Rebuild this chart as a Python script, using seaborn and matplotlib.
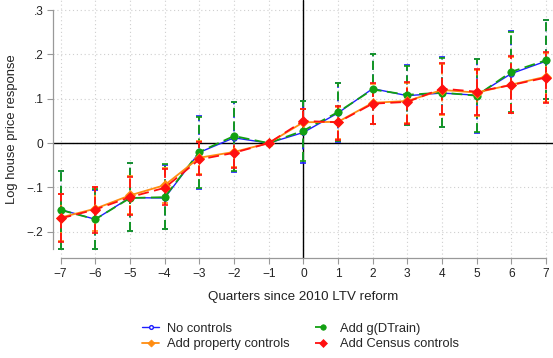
import numpy as np
import pandas as pd
import matplotlib
matplotlib.use("Agg")
import matplotlib.pyplot as plt
import seaborn as sns

quarters = [-7, -6, -5, -4, -3, -2, -1, 0, 1, 2, 3, 4, 5, 6, 7]

# Point estimates
no_controls = [-0.150, -0.172, -0.123, -0.124, -0.021, 0.012, 0.0, 0.024, 0.068, 0.123, 0.107, 0.113, 0.108, 0.157, 0.185]
add_dtrain = [-0.151, -0.172, -0.124, -0.122, -0.020, 0.016, 0.0, 0.028, 0.070, 0.121, 0.109, 0.114, 0.107, 0.161, 0.187]
add_property = [-0.168, -0.148, -0.118, -0.095, -0.033, -0.020, 0.0, 0.047, 0.048, 0.091, 0.095, 0.120, 0.114, 0.132, 0.150]
add_census = [-0.170, -0.150, -0.122, -0.101, -0.037, -0.022, 0.0, 0.050, 0.047, 0.089, 0.093, 0.123, 0.116, 0.131, 0.148]

# 95% confidence bounds (reference quarter -1 has none)
no_controls_lo = [-0.239, -0.240, -0.199, -0.195, -0.104, -0.065, np.nan, -0.044, 0.003, 0.042, 0.040, 0.036, 0.023, 0.069, 0.099]
no_controls_hi = [-0.062, -0.105, -0.044, -0.050, 0.061, 0.093, np.nan, 0.096, 0.136, 0.202, 0.176, 0.194, 0.190, 0.252, 0.278]
add_dtrain_lo = [-0.238, -0.239, -0.198, -0.193, -0.102, -0.062, np.nan, -0.040, 0.004, 0.043, 0.041, 0.037, 0.024, 0.070, 0.100]
add_dtrain_hi = [-0.064, -0.104, -0.046, -0.048, 0.060, 0.092, np.nan, 0.095, 0.135, 0.200, 0.175, 0.192, 0.189, 0.250, 0.277]
add_property_lo = [-0.220, -0.198, -0.160, -0.135, -0.070, -0.054, np.nan, 0.020, 0.009, 0.044, 0.046, 0.064, 0.061, 0.069, 0.093]
add_property_hi = [-0.114, -0.098, -0.074, -0.057, 0.004, 0.012, np.nan, 0.076, 0.082, 0.133, 0.136, 0.178, 0.166, 0.195, 0.204]
add_census_lo = [-0.223, -0.202, -0.163, -0.140, -0.072, -0.056, np.nan, 0.022, 0.007, 0.042, 0.044, 0.066, 0.063, 0.067, 0.091]
add_census_hi = [-0.116, -0.100, -0.076, -0.059, 0.003, 0.010, np.nan, 0.078, 0.084, 0.135, 0.138, 0.181, 0.167, 0.197, 0.206]

y_ticks = [-0.2, -0.1, 0.0, 0.1, 0.2, 0.3]
y_tick_labels = ["\u2212.2", "\u2212.1", "0", ".1", ".2", ".3"]
x_tick_labels = [("\u2212" + str(-q)) if q < 0 else str(q) for q in quarters]

series = [
    ("No controls", no_controls, no_controls_lo, no_controls_hi),
    ("Add property controls", add_property, add_property_lo, add_property_hi),
    ("Add g(DTrain)", add_dtrain, add_dtrain_lo, add_dtrain_hi),
    ("Add Census controls", add_census, add_census_lo, add_census_hi),
]

frames = []
for name, est, lo, hi in series:
    frames.append(pd.DataFrame({"quarter": quarters, "estimate": est, "lo": lo, "hi": hi, "spec": name}))
df = pd.concat(frames, ignore_index=True)

sns.set_theme(style="white")
plt.rcParams["font.family"] = ["Liberation Sans", "DejaVu Sans"]

fig = plt.figure(figsize=(5.53, 3.58), dpi=100)
ax = fig.add_axes([0.0958, 0.279, 0.9042, 0.721])

styles = {
    "No controls": dict(color="#1f1fff", ls="-", lw=1.0, marker="o", ms=3.6, mfc="white", mew=1.0),
    "Add g(DTrain)": dict(color="#12a012", ls=(0, (6, 3)), lw=1.3, marker="o", ms=5.3, mfc="#12a012", mew=0.5),
    "Add property controls": dict(color="#ff8c10", ls="-", lw=1.3, marker="D", ms=4.8, mfc="#ff8c10", mew=0.5),
    "Add Census controls": dict(color="#ff1010", ls=(0, (6, 3)), lw=1.3, marker="D", ms=5.6, mfc="#ff1010", mew=0.5),
}
draw_order = ["No controls", "Add g(DTrain)", "Add property controls", "Add Census controls"]

# Reference lines and grid
for yv in y_ticks:
    ax.axhline(yv, color="#cfcfcf", lw=0.8, ls=(0, (1, 2.5)), zorder=0)
for xv in quarters:
    ax.axvline(xv, color="#cfcfcf", lw=0.8, ls=(0, (1, 2.5)), zorder=0)
ax.axhline(0, color="black", lw=1.0, zorder=1)
ax.axvline(0, color="black", lw=1.0, zorder=1)

handles = {}
for k, name in enumerate(draw_order):
    st = styles[name]
    sub = df[df["spec"] == name]
    ok = sub["lo"].notna()
    ax.errorbar(sub.loc[ok, "quarter"], sub.loc[ok, "estimate"],
                yerr=[sub.loc[ok, "estimate"] - sub.loc[ok, "lo"], sub.loc[ok, "hi"] - sub.loc[ok, "estimate"]],
                fmt="none", ecolor=st["color"], elinewidth=1.3, capsize=2.2, capthick=1.2,
                zorder=2 + k)
    ax.collections[-1].set_linestyle((0, (5, 2.5)))
    sns.lineplot(data=sub, x="quarter", y="estimate", ax=ax, color=st["color"],
                 linewidth=st["lw"], marker=st["marker"], markersize=st["ms"],
                 markerfacecolor=st["mfc"], markeredgecolor=st["color"], markeredgewidth=st["mew"],
                 zorder=6 + k, legend=False)
    ax.lines[-1].set_linestyle(st["ls"])
    handles[name] = matplotlib.lines.Line2D([], [], color=st["color"], lw=st["lw"], ls=st["ls"],
                                            marker=st["marker"], ms=st["ms"] * 0.75,
                                            mfc=st["mfc"], mec=st["color"], mew=st["mew"])

ax.set_xlim(-7.22, 7.2)
ax.set_ylim(-0.2596, 0.323)
ax.set_xticks(quarters)
ax.set_xticklabels(x_tick_labels)
ax.set_yticks(y_ticks)
ax.set_yticklabels(y_tick_labels)
ax.tick_params(axis="both", direction="out", length=4, width=0.8, color="#999999",
               labelsize=8.6, labelcolor="#222222", pad=3, left=True, bottom=True)

for side in ["top", "right"]:
    ax.spines[side].set_visible(False)
for side in ["left", "bottom"]:
    ax.spines[side].set_color("#999999")
    ax.spines[side].set_linewidth(0.9)
ax.spines["left"].set_bounds(-0.24, 0.3)
ax.spines["bottom"].set_bounds(-7, 7)

ax.set_xlabel("Quarters since 2010 LTV reform", fontsize=9.6, color="#222222", labelpad=8)
ax.set_ylabel("Log house price response", fontsize=9.4, color="#222222", labelpad=6)

leg_names = ["No controls", "Add property controls", "Add g(DTrain)", "Add Census controls"]
fig.legend([handles[n] for n in leg_names], leg_names, loc="center", ncol=2,
           bbox_to_anchor=(300.5 / 553, 1 - 336.5 / 358), frameon=False, fontsize=9.3,
           handlelength=1.3, columnspacing=1.9, labelspacing=0.3, handletextpad=0.65)

fig.savefig("out.png", dpi=100)
